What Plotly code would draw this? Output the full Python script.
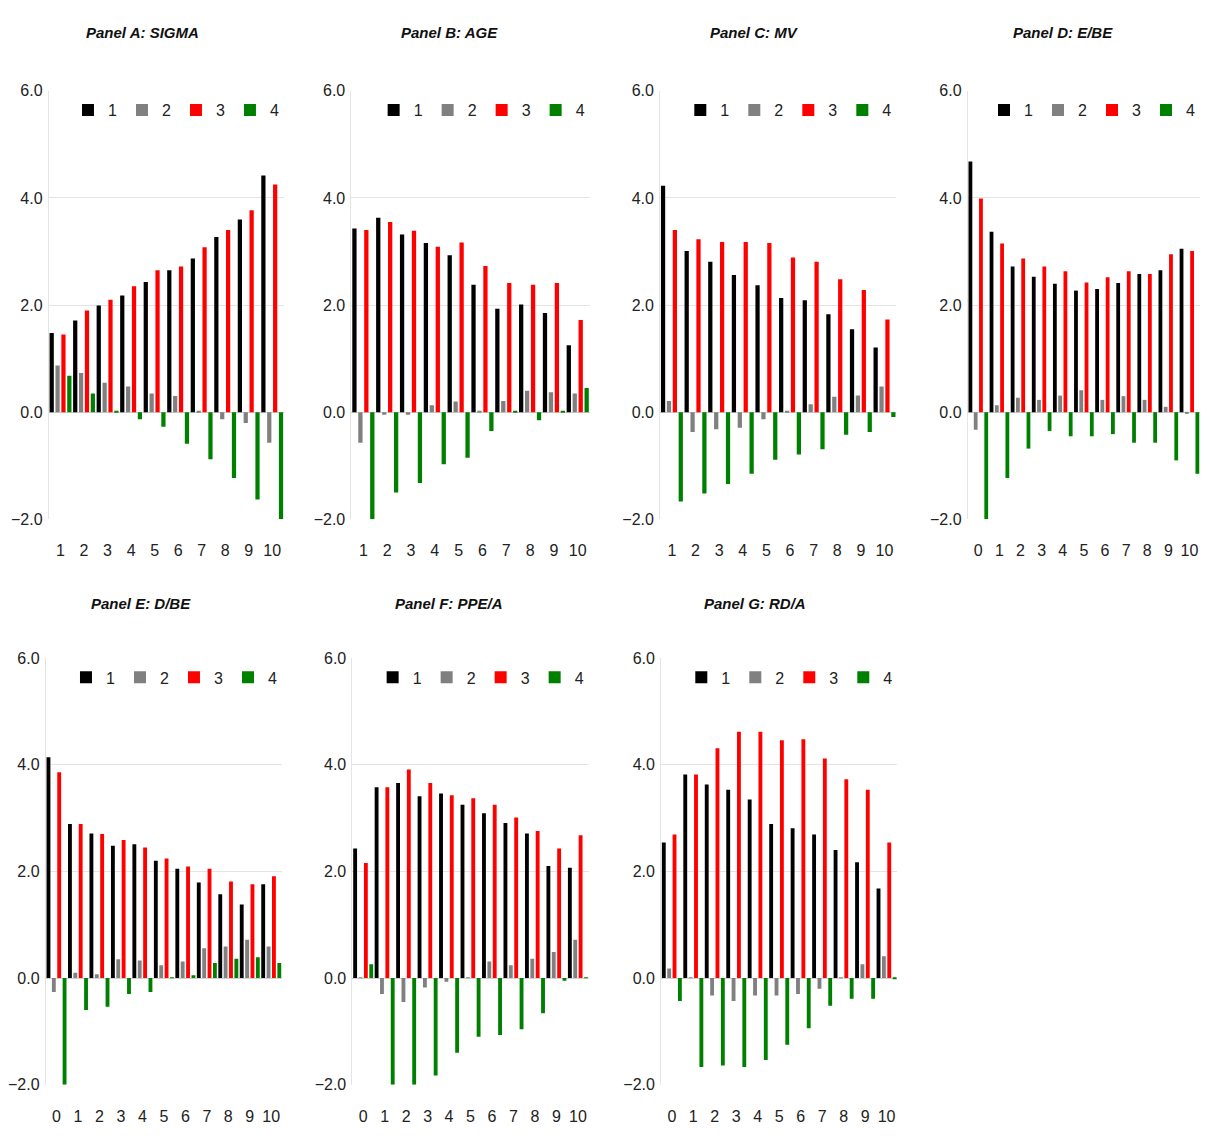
import plotly.graph_objects as go

FONT = "Liberation Sans Narrow, Arial Narrow, Liberation Sans, Arial, sans-serif"

titles = ["Panel A: SIGMA", "Panel B: AGE", "Panel C: MV", "Panel D: E/BE",
          "Panel E: D/BE", "Panel F: PPE/A", "Panel G: RD/A"]
series_names = ["1", "2", "3", "4"]
series_colors = ["#000000", "#808080", "#ff0000", "#008000"]
y_ticks = [-2.0, 0.0, 2.0, 4.0, 6.0]

cats_a = [1, 2, 3, 4, 5, 6, 7, 8, 9, 10]
cats_b = [0, 1, 2, 3, 4, 5, 6, 7, 8, 9, 10]

# Panel A: SIGMA
sigma_1 = [1.48, 1.71, 1.99, 2.18, 2.43, 2.65, 2.87, 3.27, 3.60, 4.42]
sigma_2 = [0.87, 0.73, 0.55, 0.48, 0.35, 0.30, 0.02, -0.13, -0.20, -0.57]
sigma_3 = [1.45, 1.90, 2.10, 2.35, 2.65, 2.72, 3.08, 3.40, 3.77, 4.25]
sigma_4 = [0.68, 0.35, 0.02, -0.13, -0.27, -0.59, -0.88, -1.23, -1.63, -2.00]

# Panel B: AGE
age_1 = [3.43, 3.63, 3.32, 3.16, 2.93, 2.38, 1.93, 2.01, 1.85, 1.25]
age_2 = [-0.57, -0.05, -0.05, 0.13, 0.20, 0.02, 0.21, 0.40, 0.37, 0.35]
age_3 = [3.40, 3.55, 3.39, 3.09, 3.17, 2.73, 2.41, 2.38, 2.41, 1.72]
age_4 = [-2.00, -1.50, -1.32, -0.97, -0.85, -0.35, 0.01, -0.15, 0.01, 0.45]

# Panel C: MV
mv_1 = [4.23, 3.01, 2.81, 2.56, 2.37, 2.13, 2.09, 1.83, 1.55, 1.21]
mv_2 = [0.21, -0.37, -0.32, -0.29, -0.13, 0.01, 0.15, 0.29, 0.31, 0.48]
mv_3 = [3.40, 3.23, 3.18, 3.18, 3.16, 2.89, 2.81, 2.48, 2.28, 1.73]
mv_4 = [-1.67, -1.52, -1.34, -1.15, -0.89, -0.79, -0.69, -0.42, -0.37, -0.09]

# Panel D: E/BE
ebe_1 = [4.68, 3.37, 2.72, 2.53, 2.40, 2.27, 2.30, 2.41, 2.58, 2.65, 3.05]
ebe_2 = [-0.33, 0.13, 0.27, 0.23, 0.31, 0.41, 0.23, 0.30, 0.23, 0.10, -0.02]
ebe_3 = [3.99, 3.15, 2.87, 2.72, 2.63, 2.42, 2.52, 2.63, 2.58, 2.95, 3.01]
ebe_4 = [-2.00, -1.23, -0.68, -0.35, -0.45, -0.45, -0.41, -0.57, -0.57, -0.90, -1.15]

# Panel E: D/BE
dbe_1 = [4.14, 2.89, 2.71, 2.48, 2.51, 2.20, 2.05, 1.79, 1.57, 1.38, 1.76]
dbe_2 = [-0.26, 0.10, 0.07, 0.35, 0.33, 0.24, 0.31, 0.56, 0.59, 0.72, 0.59]
dbe_3 = [3.86, 2.89, 2.70, 2.59, 2.45, 2.24, 2.09, 2.05, 1.81, 1.76, 1.91]
dbe_4 = [-2.00, -0.60, -0.54, -0.30, -0.26, 0.01, 0.05, 0.28, 0.36, 0.39, 0.28]

# Panel F: PPE/A
ppe_1 = [2.43, 3.58, 3.66, 3.41, 3.46, 3.25, 3.09, 2.91, 2.71, 2.10, 2.07]
ppe_2 = [0.01, -0.30, -0.45, -0.18, -0.07, 0.01, 0.31, 0.24, 0.36, 0.49, 0.72]
ppe_3 = [2.16, 3.58, 3.91, 3.66, 3.43, 3.37, 3.25, 3.01, 2.76, 2.43, 2.68]
ppe_4 = [0.26, -2.00, -2.00, -1.83, -1.40, -1.10, -1.07, -0.96, -0.66, -0.05, 0.01]

# Panel G: RD/A
rda_1 = [2.54, 3.82, 3.63, 3.53, 3.35, 2.89, 2.81, 2.69, 2.40, 2.17, 1.68]
rda_2 = [0.18, 0.01, -0.33, -0.43, -0.33, -0.33, -0.30, -0.20, 0.01, 0.26, 0.41]
rda_3 = [2.69, 3.82, 4.31, 4.62, 4.62, 4.46, 4.48, 4.12, 3.73, 3.53, 2.54]
rda_4 = [-0.43, -1.67, -1.64, -1.67, -1.54, -1.25, -0.94, -0.52, -0.39, -0.39, -0.02]

panel_data = [
    (cats_a, [sigma_1, sigma_2, sigma_3, sigma_4]),
    (cats_a, [age_1, age_2, age_3, age_4]),
    (cats_a, [mv_1, mv_2, mv_3, mv_4]),
    (cats_b, [ebe_1, ebe_2, ebe_3, ebe_4]),
    (cats_b, [dbe_1, dbe_2, dbe_3, dbe_4]),
    (cats_b, [ppe_1, ppe_2, ppe_3, ppe_4]),
    (cats_b, [rda_1, rda_2, rda_3, rda_4]),
]

# The page body has an 8px margin; the figure is sized so the page fits the window.
OFF = 8
W, H = 1208 - 2 * OFF, 1144 - 2 * OFF
# plot-area boxes in page pixels (left, right, top, bottom)
boxes = [
    (40, 277, 84, 519), (345, 585, 84, 519), (656, 894, 84, 519), (966, 1207, 84, 519),
    (37, 275, 660, 1093), (346, 584, 660, 1093), (657, 895, 660, 1093),
]
title_pos = [(134, 25), (444, 25), (751, 25), (1062, 25),
             (133, 604), (443, 604), (752, 604)]


def px(x):
    return min(max((x - OFF) / W, 0.0), 1.0)


def py(y):
    return min(max(1 - (y - OFF) / H, 0.0), 1.0)


fig = go.Figure()
layout = dict(
    width=W, height=H,
    margin=dict(l=0, r=0, t=0, b=0),
    paper_bgcolor="white", plot_bgcolor="white",
    barmode="group", bargap=0.0, bargroupgap=0.28,
    font=dict(family=FONT, size=16, color="#222"),
    annotations=[],
)

for i, ((cats, series), (l, r, t, b)) in enumerate(zip(panel_data, boxes)):
    k = i + 1
    xa = "x" if k == 1 else f"x{k}"
    ya = "y" if k == 1 else f"y{k}"
    lg = "legend" if k == 1 else f"legend{k}"
    for name, color, vals in zip(series_names, series_colors, series):
        fig.add_trace(go.Bar(
            x=cats, y=vals, name=name, marker=dict(color=color, line=dict(width=0)),
            xaxis=xa, yaxis=ya, legend=lg, showlegend=True,
        ))
    xdom = [px(l), px(r)]
    ydom = [py(b), py(t)]
    layout["xaxis" if k == 1 else f"xaxis{k}"] = dict(
        domain=xdom, anchor=ya, range=[cats[0] - 0.5, cats[-1] + 0.5],
        tickmode="array", tickvals=cats, ticktext=[str(c) for c in cats],
        showgrid=False, showline=False, zeroline=False, ticks="",
        ticklabelstandoff=20, tickfont=dict(size=16, family=FONT, color="#222"),
        fixedrange=True,
    )
    layout["yaxis" if k == 1 else f"yaxis{k}"] = dict(
        domain=ydom, anchor=xa, range=[-2.0, 6.0],
        tickmode="array", tickvals=y_ticks,
        ticktext=[f"{v:.1f}".replace("-", "\u2212") for v in y_ticks],
        showgrid=True, gridcolor="#e4e4e4", gridwidth=1,
        zeroline=True, zerolinecolor="#d0d0d0", zerolinewidth=1,
        showline=True, linecolor="#e4e4e4", linewidth=1, ticks="",
        ticklabelstandoff=2, tickfont=dict(size=16, family=FONT, color="#222"),
        fixedrange=True,
    )
    layout[lg] = dict(
        orientation="h", x=xdom[1], xanchor="right", y=ydom[1] - 0.002, yanchor="top",
        bgcolor="rgba(0,0,0,0)", borderwidth=0, itemwidth=30,
        font=dict(size=16, family=FONT, color="#222"), traceorder="normal",
    )
    tx, ty = title_pos[i]
    layout["annotations"].append(dict(
        text=f"<b><i>{titles[i]}</i></b>", x=px(tx), y=py(ty),
        xref="paper", yref="paper", xanchor="center", yanchor="middle",
        showarrow=False, font=dict(size=15, family=FONT, color="#111"),
    ))

fig.update_layout(**layout)
fig.write_html("out.html")
